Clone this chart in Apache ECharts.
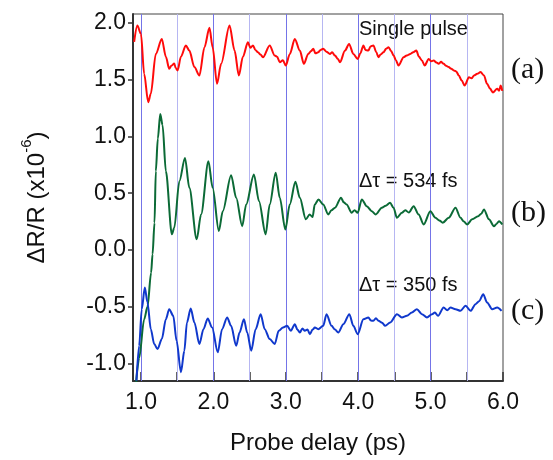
<!DOCTYPE html>
<html>
<head>
<meta charset="utf-8">
<script src="https://cdn.jsdelivr.net/npm/echarts@6/dist/echarts.min.js"></script>
<style>
html,body{margin:0;padding:0;background:#fff;}
#chart{width:553px;height:460px;}
</style>
</head>
<body>
<div id="chart"></div>
<script>
// Probe delay (ps) and ΔR/R (x10^-6) values
var redX = [0.906,0.95,1.0,1.044,1.10,1.136,1.205,1.288,1.344,1.39,1.42,1.46,1.48,1.506,1.552,1.62,1.668,1.738,1.807,1.877,1.946,1.99,2.05,2.107,2.223,2.293,2.352,2.408,2.477,2.51,2.547,2.58,2.616,2.65,2.685,2.778,2.847,2.88,2.917,2.96,3.0,3.056,3.125,3.194,3.25,3.31,3.35,3.38,3.41,3.448,3.48,3.517,3.56,3.61,3.64,3.68,3.72,3.749,3.818,3.874,3.933,3.993,4.03,4.072,4.10,4.14,4.17,4.21,4.25,4.28,4.31,4.35,4.385,4.42,4.455,4.49,4.52,4.557,4.627,4.67,4.72,4.76,4.803,4.84,4.88,4.918,4.974,5.01,5.043,5.08,5.11,5.145,5.18,5.215,5.25,5.285,5.32,5.355,5.39,5.43,5.47,5.53,5.565,5.60,5.645,5.69,5.737,5.78,5.82,5.86,5.92,5.945,5.968,5.99];
var redY = [1.83,1.974,1.90,1.55,1.30,1.375,1.725,1.857,1.70,1.594,1.62,1.64,1.60,1.58,1.70,1.80,1.754,1.609,1.535,1.784,1.954,1.784,1.462,1.638,1.974,1.754,1.535,1.70,1.828,1.78,1.80,1.76,1.74,1.72,1.696,1.80,1.71,1.70,1.652,1.67,1.623,1.725,1.857,1.754,1.638,1.725,1.75,1.77,1.73,1.74,1.76,1.77,1.745,1.725,1.74,1.71,1.68,1.652,1.754,1.813,1.725,1.68,1.73,1.80,1.76,1.754,1.79,1.80,1.74,1.696,1.72,1.74,1.77,1.784,1.75,1.71,1.67,1.623,1.696,1.71,1.725,1.74,1.754,1.70,1.667,1.623,1.68,1.66,1.667,1.65,1.638,1.655,1.638,1.62,1.609,1.595,1.58,1.57,1.535,1.49,1.447,1.52,1.51,1.535,1.55,1.565,1.535,1.462,1.42,1.386,1.418,1.40,1.447,1.40];

var greenX = [0.933,0.975,1.044,1.09,1.14,1.16,1.187,1.205,1.233,1.266,1.298,1.344,1.427,1.46,1.53,1.608,1.668,1.77,1.83,1.932,1.99,2.075,2.13,2.245,2.315,2.398,2.453,2.56,2.63,2.722,2.778,2.861,2.917,2.994,3.055,3.133,3.194,3.277,3.33,3.37,3.40,3.452,3.517,3.587,3.63,3.68,3.763,3.80,3.84,3.91,3.95,3.993,4.05,4.118,4.187,4.243,4.326,4.38,4.44,4.488,4.535,4.603,4.65,4.70,4.766,4.835,4.904,4.997,5.067,5.12,5.168,5.25,5.344,5.413,5.46,5.505,5.574,5.657,5.70,5.737,5.806,5.875,5.91,5.945,5.99];
var greenY = [-1.16,-0.95,-0.61,-0.50,-0.20,-0.038,0.24,0.693,0.98,1.196,1.10,0.693,0.138,0.196,0.605,0.81,0.547,0.094,0.313,0.78,0.547,0.167,0.342,0.658,0.46,0.21,0.40,0.664,0.43,0.138,0.40,0.679,0.46,0.18,0.40,0.60,0.46,0.27,0.313,0.29,0.40,0.445,0.40,0.313,0.35,0.372,0.46,0.42,0.40,0.328,0.35,0.328,0.445,0.386,0.342,0.313,0.372,0.39,0.416,0.372,0.284,0.328,0.35,0.33,0.386,0.313,0.225,0.342,0.284,0.26,0.24,0.284,0.372,0.284,0.25,0.225,0.27,0.298,0.32,0.357,0.27,0.21,0.23,0.254,0.225];

var blueX = [0.938,0.975,1.011,1.053,1.09,1.136,1.183,1.229,1.288,1.344,1.39,1.446,1.492,1.552,1.599,1.635,1.687,1.738,1.807,1.863,1.922,1.982,2.061,2.12,2.19,2.245,2.315,2.362,2.422,2.467,2.523,2.584,2.653,2.709,2.778,2.847,2.903,2.962,3.018,3.07,3.125,3.16,3.194,3.23,3.263,3.30,3.333,3.37,3.402,3.448,3.517,3.563,3.632,3.68,3.725,3.795,3.878,3.933,3.993,4.072,4.141,4.175,4.21,4.245,4.28,4.33,4.373,4.443,4.535,4.603,4.673,4.742,4.811,4.88,4.95,5.02,5.06,5.103,5.18,5.23,5.275,5.344,5.413,5.483,5.552,5.621,5.67,5.727,5.78,5.85,5.92,5.98];
var blueY = [-1.149,-0.842,-0.52,-0.33,-0.461,-0.696,-0.827,-0.871,-0.783,-0.608,-0.52,-0.579,-0.798,-1.075,-0.886,-0.637,-0.514,-0.637,-0.827,-0.696,-0.602,-0.681,-0.90,-0.696,-0.593,-0.667,-0.842,-0.725,-0.608,-0.725,-0.886,-0.696,-0.564,-0.696,-0.783,-0.827,-0.71,-0.681,-0.667,-0.71,-0.652,-0.70,-0.725,-0.69,-0.71,-0.70,-0.74,-0.70,-0.681,-0.696,-0.667,-0.564,-0.667,-0.70,-0.725,-0.652,-0.564,-0.667,-0.74,-0.608,-0.593,-0.62,-0.623,-0.60,-0.623,-0.64,-0.667,-0.637,-0.564,-0.593,-0.579,-0.549,-0.52,-0.564,-0.593,-0.564,-0.55,-0.579,-0.505,-0.53,-0.505,-0.52,-0.535,-0.49,-0.535,-0.476,-0.45,-0.389,-0.461,-0.52,-0.505,-0.535];

var xTickValues = [1.0,1.5,2.0,2.5,3.0,3.5,4.0,4.5,5.0,5.5,6.0];
var xLabelValues = [1.0,2.0,3.0,4.0,5.0,6.0];
var yTickValues = [-1.0,-0.5,0.0,0.5,1.0,1.5,2.0];
var gridLineValues = [1.0,1.5,2.0,2.5,3.0,3.5,4.0,4.5,5.0,5.5];

function pairs(xs, ys){ return xs.map(function(x,i){ return [x, ys[i]]; }); }

var chart = echarts.init(document.getElementById('chart'), null, {renderer:'canvas'});
var FONT = "'Liberation Sans', Arial, sans-serif";

var gridLines = gridLineValues.map(function(v){
  var major = Math.abs(v - Math.round(v)) < 1e-6;
  return {xAxis: v, lineStyle: {color: major ? '#7474e8' : '#b6b6f2', width: 1, type: 'solid'}};
});

var option = {
  animation: false,
  backgroundColor: '#fff',
  grid: {left: 133, top: 14, width: 370, height: 370, show: true, borderColor: '#444', borderWidth: 1, backgroundColor: 'transparent'},
  xAxis: {
    type: 'value', min: 0.89, max: 6.0,
    name: 'Probe delay (ps)', nameLocation: 'middle', nameGap: 50,
    nameTextStyle: {fontFamily: FONT, fontSize: 24, color: '#111'},
    axisLine: {show: true, onZero: false, lineStyle: {color: '#333', width: 2}},
    axisTick: {show: true, inside: true, length: 9, customValues: xTickValues, lineStyle: {color: '#333', width: 1.5}},
    axisLabel: {customValues: xLabelValues, margin: 10, fontFamily: FONT, fontSize: 23, color: '#111',
      formatter: function(v){ return v.toFixed(1); }},
    splitLine: {show: false}
  },
  yAxis: {
    type: 'value', min: -1.152, max: 2.076,
    name: '{a|ΔR/R (x10}{s|-6}{a|)}', nameLocation: 'middle', nameGap: 84, nameRotate: 90,
    nameTextStyle: {fontFamily: FONT, fontSize: 24, color: '#111',
      rich: {a: {fontFamily: FONT, fontSize: 24, color: '#111', lineHeight: 30, verticalAlign: 'bottom'},
             s: {fontFamily: FONT, fontSize: 15, color: '#111', lineHeight: 30, verticalAlign: 'top'}}},
    axisLine: {show: true, onZero: false, lineStyle: {color: '#333', width: 2}},
    axisTick: {show: true, inside: false, length: 5, customValues: yTickValues, lineStyle: {color: '#333', width: 1.5}},
    axisLabel: {customValues: yTickValues, margin: 7, fontFamily: FONT, fontSize: 23, color: '#111',
      formatter: function(v){ return v.toFixed(1); }},
    splitLine: {show: false}
  },
  series: [
    {type: 'line', name: 'grid', data: [], silent: true,
     markLine: {silent: true, symbol: ['none','none'], label: {show: false}, animation: false, data: gridLines}},
    {type: 'line', name: 'Single pulse', data: pairs(redX, redY), showSymbol: false, smooth: 0.3, smoothMonotone: 'x', lineStyle: {color: '#ff0a0a', width: 2}, z: 5},
    {type: 'line', name: 'Δτ = 534 fs', data: pairs(greenX, greenY), showSymbol: false, smooth: 0.3, smoothMonotone: 'x', lineStyle: {color: '#0b6a36', width: 2}, z: 5},
    {type: 'line', name: 'Δτ = 350 fs', data: pairs(blueX, blueY), showSymbol: false, smooth: 0.3, smoothMonotone: 'x', lineStyle: {color: '#1038cc', width: 2}, z: 5}
  ],
  graphic: [
    {type: 'text', left: 359, top: 19, style: {text: 'Single pulse', font: '20px ' + FONT, fill: '#111'}},
    {type: 'text', left: 359, top: 171, style: {text: 'Δτ = 534 fs', font: '20px ' + FONT, fill: '#111'}},
    {type: 'text', left: 359, top: 275, style: {text: 'Δτ = 350 fs', font: '20px ' + FONT, fill: '#111'}},
    {type: 'text', left: 511, top: 55, style: {text: '(a)', font: '30px "Liberation Serif", "Times New Roman", serif', fill: '#111'}},
    {type: 'text', left: 511, top: 198, style: {text: '(b)', font: '30px "Liberation Serif", "Times New Roman", serif', fill: '#111'}},
    {type: 'text', left: 511, top: 296, style: {text: '(c)', font: '30px "Liberation Serif", "Times New Roman", serif', fill: '#111'}}
  ]
};
chart.setOption(option);
</script>
</body>
</html>
